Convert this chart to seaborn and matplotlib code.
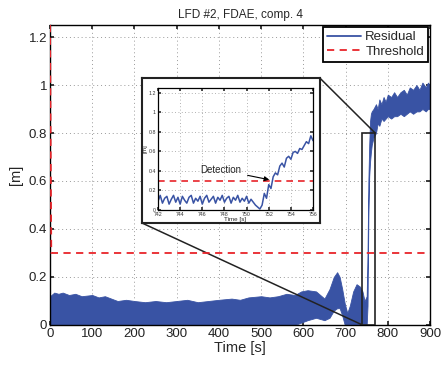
import numpy as np
import pandas as pd
import seaborn as sns
import matplotlib.pyplot as plt
from matplotlib.patches import Rectangle, ConnectionPatch
from matplotlib.lines import Line2D
from matplotlib.ticker import FuncFormatter

# Envolvente del residuo (vista completa)
t_env = [0, 10, 20, 30, 45, 60, 75, 100, 115, 130, 145, 160, 180, 200, 225, 250, 275, 300, 325, 350, 375, 400,
         430, 450, 470, 500, 520, 540, 560, 580, 595, 610, 630, 650,
         662, 672, 680, 686, 692, 698, 704, 710, 718, 726, 734, 740, 745, 750, 752, 754, 756, 758, 760,
         762, 766, 772, 776, 780, 785, 790, 795, 800, 808, 815, 822, 830, 838, 845, 852, 860, 868, 875, 882, 890, 895, 900]
res_sup = [0.12, 0.135, 0.13, 0.135, 0.125, 0.13, 0.12, 0.125, 0.115, 0.12, 0.11, 0.10, 0.105, 0.10, 0.095, 0.10, 0.095, 0.10,
           0.105, 0.095, 0.10, 0.105, 0.11, 0.105, 0.115, 0.12, 0.115, 0.12, 0.13, 0.125, 0.14, 0.145, 0.14, 0.11,
           0.15, 0.20, 0.22, 0.20, 0.15, 0.09, 0.05, 0.08, 0.14, 0.17, 0.16, 0.14, 0.10, 0.12, 0.30, 0.60, 0.75, 0.85, 0.88,
           0.89, 0.90, 0.92, 0.90, 0.94, 0.92, 0.95, 0.93, 0.96, 0.95, 0.97, 0.95, 0.97, 0.98, 0.96, 0.99, 0.98, 1.0,
           0.98, 1.01, 0.99, 1.01, 1.0]
res_inf = [0.0] * 30 + [0.01, 0.02, 0.03, 0.02,
           0.03, 0.06, 0.07, 0.07, 0.04, 0.0, 0.0, 0.0, 0.0, 0.0, 0.0, 0.0, 0.0, 0.0, 0.08, 0.45, 0.62, 0.68, 0.72,
           0.75, 0.78, 0.80, 0.84, 0.83, 0.86, 0.85, 0.86, 0.87, 0.86, 0.87, 0.87, 0.88, 0.87, 0.88, 0.89, 0.88, 0.89,
           0.89, 0.90, 0.89, 0.90, 0.90]

# Umbral
t_umbral = [0, 3, 900]
umbral = [1.25, 0.3, 0.3]

# Residuo en la ventana ampliada (742-756 s)
t_zoom = [742.0 + 0.2 * i for i in range(71)]
res_zoom = [0.09, 0.15, 0.07, 0.12, 0.14, 0.06, 0.11, 0.15, 0.08, 0.13, 0.06, 0.14, 0.10, 0.07, 0.13, 0.15, 0.07, 0.12,
            0.09, 0.14, 0.06, 0.12, 0.15, 0.08, 0.11, 0.14, 0.07, 0.13, 0.10, 0.15, 0.08, 0.12, 0.14, 0.07, 0.13, 0.10,
            0.15, 0.08, 0.12, 0.09, 0.14, 0.07, 0.11,
            0.08, 0.05, 0.03, 0.01, 0.05, 0.17, 0.12, 0.26, 0.22, 0.34, 0.38, 0.36, 0.45, 0.48, 0.44, 0.53, 0.55, 0.52,
            0.59, 0.60, 0.58, 0.63, 0.62, 0.66, 0.70, 0.68, 0.76, 0.71]

azul = '#3953a4'
rojo = '#e8242a'

sns.set_theme(style='ticks')
plt.rcParams['font.family'] = ['Liberation Sans', 'DejaVu Sans']

fig = plt.figure(figsize=(4.47, 3.65), dpi=100)
ax = fig.add_axes([0.1119, 0.1096, 0.8501, 0.8219])

ax.fill_between(t_env, res_inf, res_sup, color=azul, lw=0.6, edgecolor=azul)
df_umbral = pd.DataFrame({'t': t_umbral, 'v': umbral})
sns.lineplot(data=df_umbral, x='t', y='v', ax=ax, color=rojo, lw=1.3, linestyle=(0, (4, 3)), zorder=4)

ax.set_xlim(0, 900)
ax.set_ylim(0, 1.25)
ax.set_xticks(np.arange(0, 901, 100))
ax.set_yticks(np.arange(0, 1.21, 0.2))
fmt = FuncFormatter(lambda v, p: '%g' % round(v, 2))
ax.yaxis.set_major_formatter(fmt)
ax.grid(True, linestyle=(0, (1, 3)), color='#999999', lw=0.7)
ax.tick_params(direction='in', labelsize=9.5, top=True, right=True, length=3, pad=2, colors='#222222')
for s in ax.spines.values():
    s.set_linewidth(1.0)
    s.set_color('black')
ax.set_xlabel('Time [s]', fontsize=10.5, labelpad=1)
ax.set_ylabel('[m]', fontsize=10.5, labelpad=4)
ax.set_title('LFD #2, FDAE, comp. 4', fontsize=8.5, pad=5)

handles = [Line2D([], [], color=azul, lw=1.3), Line2D([], [], color=rojo, lw=1.3, linestyle=(0, (4, 3)))]
leg = ax.legend(handles, ['Residual', 'Threshold'], loc='upper right', fontsize=9.5, fancybox=False,
                framealpha=1, edgecolor='black', borderaxespad=0.15, handlelength=2.6, handletextpad=0.3,
                borderpad=0.3, labelspacing=0.2)
leg.get_frame().set_linewidth(1.3)

# Rectangulo de la zona ampliada
ax.add_patch(Rectangle((740, 0), 30, 0.8, fill=False, ec='#222222', lw=1.2, zorder=5))

# Caja del recuadro
caja = fig.add_axes([0.3177, 0.389, 0.398, 0.397])
caja.set_xticks([])
caja.set_yticks([])
caja.set_facecolor('white')
for s in caja.spines.values():
    s.set_linewidth(1.5)
    s.set_color('#222222')

for xa, xb in [((1, 1), (770, 0.8)), ((0, 0), (740, 0))]:
    con = ConnectionPatch(xyA=xa, coordsA=caja.transAxes, xyB=xb, coordsB=ax.transData,
                          color='#222222', lw=1.1)
    ax.add_artist(con)

ins = fig.add_axes([0.3535, 0.4247, 0.3468, 0.3342])
df_zoom = pd.DataFrame({'t': t_zoom, 'r': res_zoom})
sns.lineplot(data=df_zoom, x='t', y='r', ax=ins, color=azul, lw=1.1)
ins.axhline(0.3, color=rojo, lw=1.2, linestyle=(0, (4, 3)))
ins.set_xlim(742, 756)
ins.set_ylim(0, 1.25)
ins.set_xticks(np.arange(742, 757, 2))
ins.set_yticks(np.arange(0, 1.21, 0.2))
ins.yaxis.set_major_formatter(fmt)
ins.grid(True, linestyle=(0, (1, 3)), color='#999999', lw=0.6)
ins.tick_params(direction='in', labelsize=3.8, top=True, right=True, length=2, pad=1.5, colors='#333333')
for s in ins.spines.values():
    s.set_linewidth(0.9)
    s.set_color('black')
ins.set_xlabel('Time [s]', fontsize=4.5, labelpad=0)
ins.set_ylabel('[m]', fontsize=4.5, labelpad=1)
ins.annotate('Detection', xy=(752.05, 0.31), xytext=(747.7, 0.41), fontsize=7, ha='center', va='center',
             arrowprops=dict(arrowstyle='-|>', color='black', lw=0.8, shrinkA=2, shrinkB=0, mutation_scale=7))

fig.savefig('out.png', dpi=100)
